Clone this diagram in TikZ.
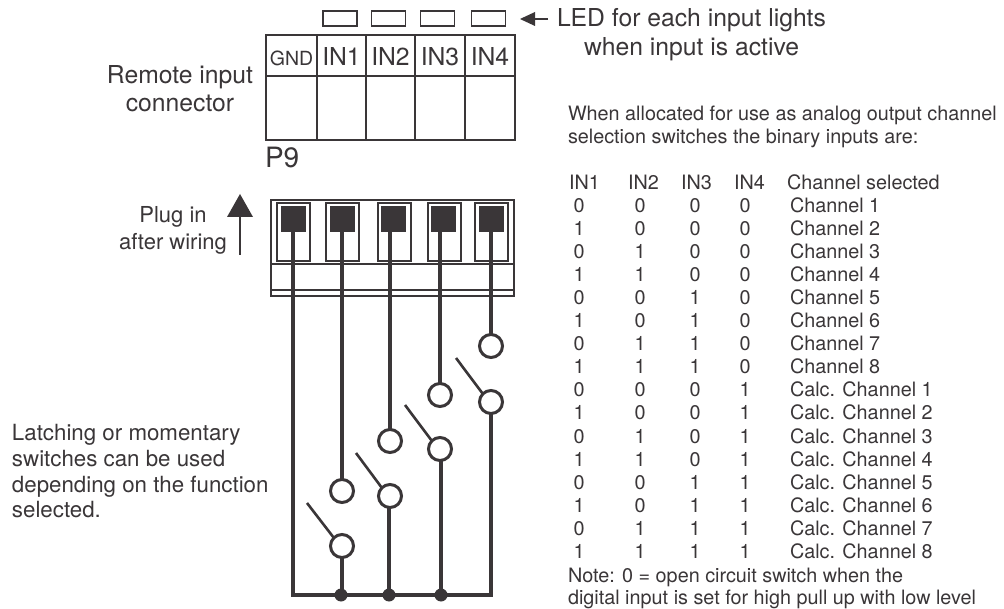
\documentclass[tikz,border=0pt]{standalone}
\usepackage{fontspec}
\setmainfont{TeX Gyre Heros}
\definecolor{ink}{HTML}{3A3638}
\newcommand{\fsz}[1]{\fontsize{#1}{#1}\selectfont}
\tikzset{
  x=1pt,y=-1pt,
  lbl/.style={text=ink,inner sep=0pt,outer sep=0pt,anchor=base west},
  lblc/.style={text=ink,inner sep=0pt,outer sep=0pt,anchor=base},
  big/.style={font=\fsz{24.7}},
  mid/.style={font=\fsz{22.3}},
  small/.style={font=\fsz{19.8}},
  cell/.style={draw=ink,line width=2.2pt,inner sep=0pt,outer sep=0pt},
  led/.style={draw=ink,line width=1.7pt,inner sep=0pt,outer sep=0pt,minimum width=34pt,minimum height=15pt},
  pin/.style={draw=ink,line width=2pt,inner sep=0pt,outer sep=0pt,minimum width=33pt,minimum height=58pt},
  pad/.style={fill=ink,inner sep=0pt,outer sep=0pt,minimum width=25pt,minimum height=26pt},
  body/.style={draw=ink,line width=2pt,inner sep=0pt,outer sep=0pt},
  term/.style={circle,draw=ink,line width=3pt,fill=white,inner sep=0pt,outer sep=0pt,minimum size=23pt},
  wire/.style={draw=ink,line width=3.1pt},
  blade/.style={draw=ink,line width=2.6pt},
  dot/.style={circle,fill=ink,inner sep=0pt,outer sep=0pt,minimum size=13pt},
}
\begin{document}
\begin{tikzpicture}
\fill[white] (0,0) rectangle (1004,609);
\useasboundingbox (0,0) rectangle (1004,609);
% LEDs
\foreach \n/\cx in {1/340,2/388.5,3/437.5,4/488.5}
  \node[led] (led\n) at (\cx,18.5) {};
% LED arrow
\coordinate (ledtail) at (548,19);
\node[lbl,big] (ledtext1) at (557,27) {LED for each input lights};
\node[lbl,big] (ledtext2) at (584,55.5) {when input is active};
\fill[ink] (520,19) -- (535,12) -- (535,26) -- cycle;
\draw[ink,line width=1.7pt] (ledtail) -- (534,19);
% Connector table
\foreach \n/\cx/\w/\t in {1/291.5/51/GND,2/341.5/49/IN1,3/390.5/49/IN2,4/440/50/IN3,5/490/50/IN4}{
  \node[cell,minimum width=\w pt,minimum height=41pt] (top\n) at (\cx,55.5) {};
  \node[cell,minimum width=\w pt,minimum height=64pt] (low\n) at (\cx,108) {};
}
\node[lblc,font=\fsz{19.5}] (tG) at (top1 |- 0,66) {GND};
\foreach \n/\t in {2/IN1,3/IN2,4/IN3,5/IN4}
  \node[lblc,big] (t\n) at (top\n |- 0,66) {\t};
\node[lbl,font=\fsz{28}] (p9) at (265,168) {P9};
% Left labels
\node[lblc,big] (remote1) at (180,84) {Remote input};
\node[lblc,big] (remote2) at (180,112) {connector};
\node[lblc,font=\fsz{22}] (plug1) at (173,223) {Plug in};
\node[lblc,font=\fsz{22}] (plug2) at (173,250) {after wiring};
\fill[ink] (240,194) -- (253,217) -- (227,217) -- cycle;
\coordinate (plugtail) at (240,255);
\coordinate (plughead) at (240,216);
\draw[ink,line width=2.6pt] (plugtail) -- (plughead);
\node[lbl,mid] (latch1) at (12,440) {Latching or momentary};
\node[lbl,mid] (latch2) at (12,466) {switches can be used};
\node[lbl,mid] (latch3) at (12,492) {depending on the function};
\node[lbl,mid] (latch4) at (12,517) {selected.};
% Plug body
\node[body,minimum width=243pt,minimum height=96pt] (plug) at (392.5,248) {};
\draw[body] (271,264) -- (514,264);
\draw[body] (271,290) -- (514,290);
\foreach \n/\px/\dx in {1/293.5/293.5,2/342/342.5,3/394/393.5,4/444/443.5,5/491/491}{
  \node[pin] (pin\n) at (\px,232) {};
  \node[pad] (pad\n) at (\dx,219) {};
}
% Terminals
\node[term] (a1) at (342,491) {};
\node[term] (a2) at (390,441) {};
\node[term] (a3) at (440,395) {};
\node[term] (a4) at (491,346) {};
\node[term] (b1) at (342,546) {};
\node[term] (b2) at (390,496) {};
\node[term] (b3) at (440,449) {};
\node[term] (b4) at (491,402) {};
\coordinate (corner) at (293,595);
\coordinate (busend) at (491,595);
\node[dot] (d1) at (341,595) {};
\node[dot] (d2) at (389,595) {};
\node[dot] (d3) at (441,595) {};
% Wires
\draw[wire,line join=miter] (293,232) -- (corner) -- (busend) -- (b4.south);
\draw[wire] (pad2.south -| a1) -- (a1.north);
\draw[wire] (pad3.south -| a2) -- (a2.north);
\draw[wire] (pad4.south -| a3) -- (a3.north);
\draw[wire] (pad5.south -| a4) -- (a4.north);
\draw[wire] (b1.south) -- (b1.south |- d1.north);
\draw[wire] (b2.south -| d2) -- (d2.north);
\draw[wire] (b3.south -| d3) -- (d3.north);
% Blades
\coordinate (s1) at (307,503);
\coordinate (s2) at (356,453);
\coordinate (s3) at (405,405);
\coordinate (s4) at (456,358);
\draw[blade] (s1) -- (b1.135);
\draw[blade] (s2) -- (b2.135);
\draw[blade] (s3) -- (b3.135);
\draw[blade] (s4) -- (b4.135);
% Right text
\node[lbl,small] (w1) at (568,121) {When allocated for use as analog output channel};
\node[lbl,small] (w2) at (568,144) {selection switches the binary inputs are:};
\node[lbl,small] (h1) at (569,190) {IN1};
\node[lbl,small] (h2) at (628,190) {IN2};
\node[lbl,small] (h3) at (681,190) {IN3};
\node[lbl,small] (h4) at (734,190) {IN4};
\node[lbl,small] (h5) at (787,190) {Channel selected};
\foreach \i/\a/\b/\c/\d/\t [evaluate=\i as \yy using {190+23*\i}] in {
 1/0/0/0/0/Channel 1,2/1/0/0/0/Channel 2,3/0/1/0/0/Channel 3,4/1/1/0/0/Channel 4,
 5/0/0/1/0/Channel 5,6/1/0/1/0/Channel 6,7/0/1/1/0/Channel 7,8/1/1/1/0/Channel 8,
 9/0/0/0/1/Calc. Channel 1,10/1/0/0/1/Calc. Channel 2,11/0/1/0/1/Calc. Channel 3,12/1/1/0/1/Calc. Channel 4,
 13/0/0/1/1/Calc. Channel 5,14/1/0/1/1/Calc. Channel 6,15/0/1/1/1/Calc. Channel 7,16/1/1/1/1/Calc. Channel 8}{
  \node[lblc,small] (ra\i) at (579,\yy) {\a};
  \node[lblc,small] (rb\i) at (640,\yy) {\b};
  \node[lblc,small] (rc\i) at (695,\yy) {\c};
  \node[lblc,small] (rd\i) at (745,\yy) {\d};
  \node[lbl,small] (rt\i) at (790,\yy) {\t};
}
\node[lbl,small] (n1) at (568,582) {Note: 0 = open circuit switch when the};
\node[lbl,small] (n2) at (568,604) {digital input is set for high pull up with low level};
\end{tikzpicture}
\end{document}
